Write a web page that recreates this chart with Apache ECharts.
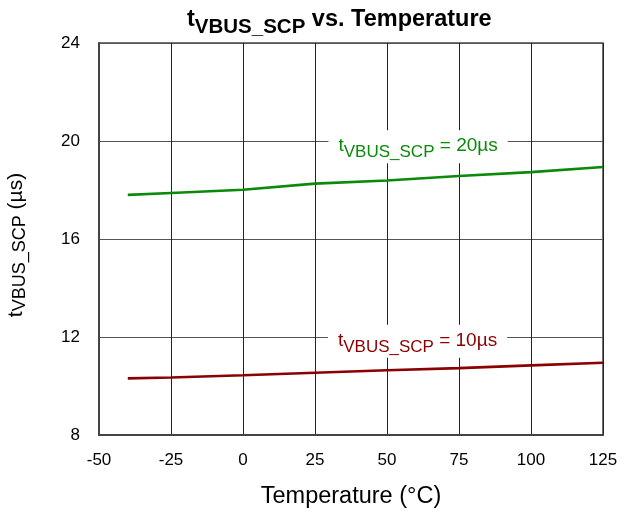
<!DOCTYPE html>
<html>
<head>
<meta charset="utf-8">
<title>tVBUS_SCP vs. Temperature</title>
<script src="https://cdn.jsdelivr.net/npm/echarts@6/dist/echarts.min.js"></script>
<style>
  html, body { margin: 0; padding: 0; background: #fff; }
  #chart { width: 624px; height: 516px; }
</style>
</head>
<body>
<div id="chart"></div>
<script>
// Measured short-circuit protection time vs. ambient temperature
const temperatures = [-40, -25, 0, 25, 50, 75, 100, 125];
const scp20us = [17.80, 17.88, 18.01, 18.26, 18.39, 18.57, 18.73, 18.94];
const scp10us = [10.31, 10.35, 10.44, 10.54, 10.64, 10.73, 10.84, 10.95];

const xMin = -50, xMax = 125, xStep = 25;
const yMin = 8, yMax = 24, yStep = 4;

const seriesNames = ['20µs', '10µs'];
const labelAnchors = [[60.8, 19.765], [60.6, 11.824]];

const FONT = "'Liberation Sans', Arial, Helvetica, sans-serif";

function pairs(xs, ys) {
  return xs.map((x, i) => [x, ys[i]]);
}

// rich styles for "t" with a lowered VBUS_SCP subscript; the subscript's
// taller line box pushes it below the main text's baseline
function subRich(mainSize, subSize, color, bold, subLH) {
  const weight = bold ? 'bold' : 'normal';
  return {
    m: { fontSize: mainSize, fontFamily: FONT, color: color, fontWeight: weight,
         verticalAlign: 'top' },
    s: { fontSize: subSize, fontFamily: FONT, color: color, fontWeight: weight,
         lineHeight: subLH, verticalAlign: 'bottom' }
  };
}

function seriesLabel(name, color, anchor) {
  return {
    silent: true,
    symbol: 'circle',
    symbolSize: 0,
    data: [{ coord: anchor }],
    label: {
      show: true,
      position: 'inside',
      formatter: '{m|t}{s|VBUS_SCP}{m| = ' + name + '}',
      backgroundColor: '#fff',
      padding: [6, 10, 2, 10],
      rich: subRich(19, 17, color, false, 25)
    }
  };
}

const chart = echarts.init(document.getElementById('chart'), null, { renderer: 'canvas' });

chart.setOption({
  animation: false,
  backgroundColor: '#fff',
  title: {
    text: '{m|t}{s|VBUS_SCP}{m| vs. Temperature}',
    left: 187,
    top: 7.5,
    padding: 0,
    textStyle: {
      rich: subRich(23.5, 20.5, '#000', true, 30)
    }
  },
  grid: {
    left: 99, right: 21, top: 43, bottom: 81,
    containLabel: false,
    outerBoundsMode: 'none',
    show: true,
    borderColor: '#444',
    borderWidth: 1.5
  },
  xAxis: {
    type: 'value',
    min: xMin, max: xMax, interval: xStep,
    name: 'Temperature (°C)',
    nameLocation: 'middle',
    nameGap: 50,
    nameTextStyle: { fontSize: 23.5, fontFamily: FONT, color: '#000' },
    axisLine: { show: true, onZero: false, lineStyle: { color: '#444', width: 2 } },
    axisTick: { show: false },
    axisLabel: { fontSize: 17, fontFamily: FONT, color: '#000', margin: 17 },
    splitLine: { show: true, lineStyle: { color: '#222', width: 1 } }
  },
  yAxis: {
    type: 'value',
    min: yMin, max: yMax, interval: yStep,
    name: '{m|t}{s|VBUS_SCP}{m| (µs)}',
    nameLocation: 'middle',
    nameGap: 70,
    nameTextStyle: {
      padding: [0, 12, 0, 0],
      rich: subRich(21, 18, '#000', false, 23.5)
    },
    axisLine: { show: true, onZero: false, lineStyle: { color: '#444', width: 2 } },
    axisTick: { show: false },
    axisLabel: { fontSize: 17, fontFamily: FONT, color: '#000', margin: 19 },
    splitLine: { show: true, lineStyle: { color: '#555', width: 1 } }
  },
  series: [
    {
      name: seriesNames[0],
      type: 'line',
      data: pairs(temperatures, scp20us),
      showSymbol: false,
      lineStyle: { color: '#0a8a0a', width: 2.6 },
      itemStyle: { color: '#0a8a0a' },
      markPoint: seriesLabel(seriesNames[0], '#0a8a0a', labelAnchors[0])
    },
    {
      name: seriesNames[1],
      type: 'line',
      data: pairs(temperatures, scp10us),
      showSymbol: false,
      lineStyle: { color: '#8b0000', width: 2.6 },
      itemStyle: { color: '#8b0000' },
      markPoint: seriesLabel(seriesNames[1], '#8b0000', labelAnchors[1])
    }
  ]
});
</script>
</body>
</html>
